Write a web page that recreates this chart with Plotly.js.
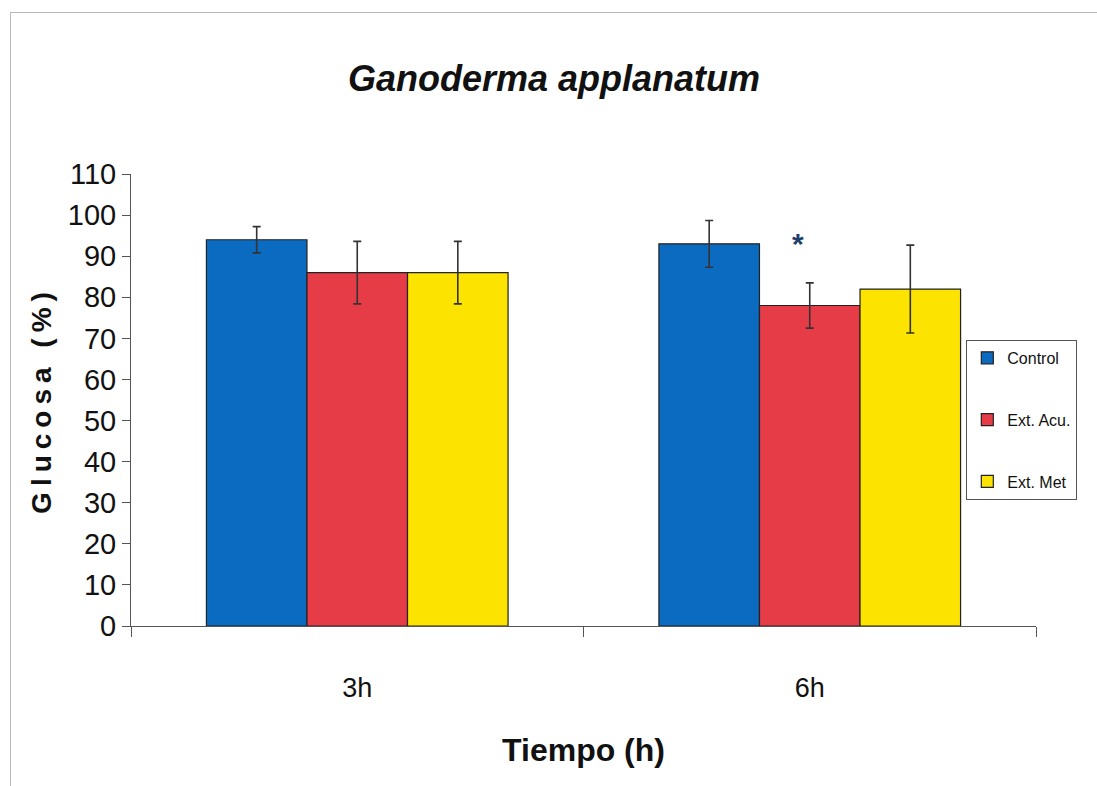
<!DOCTYPE html>
<html>
<head>
<meta charset="utf-8">
<script src="https://cdn.plot.ly/plotly-3.0.1.min.js"></script>
<style>
html,body{margin:0;padding:0;background:#fff;}
#wrap{position:relative;width:1097px;height:786px;}
#frame{position:absolute;left:10px;top:12px;width:1100px;height:800px;border-left:1px solid #bbb;border-top:1px solid #bbb;pointer-events:none;}
#chart{position:absolute;left:0;top:0;width:1097px;height:786px;}
.ytitle{letter-spacing:6px;}
</style>
</head>
<body>
<div id="wrap">
<div id="chart"></div>
<div id="frame"></div>
</div>
<script>
const categories = ['3h', '6h'];
const seriesNames = ['Control', 'Ext. Acu.', 'Ext. Met'];
const controlValues = [94, 93];
const controlErrors = [3.2, 5.7];
const acuValues = [86, 78];
const acuErrors = [7.6, 5.5];
const metValues = [86, 82];
const metErrors = [7.6, 10.7];
const yTicks = [0, 10, 20, 30, 40, 50, 60, 70, 80, 90, 100, 110];
const colors = ['#0b6bc1', '#e63c48', '#fde400'];

const narrow = '"Liberation Sans Narrow", "Arial Narrow", "Liberation Sans", Arial, sans-serif';

function barTrace(name, vals, errs, color, grp) {
  return {
    type: 'bar', name: name, x: categories, y: vals,
    marker: {color: color, line: {color: '#222', width: 1.2}},
    error_y: {type: 'data', array: errs, visible: true, color: '#333', thickness: 1.6, width: 4},
    legendgroup: grp
  };
}

const data = [
  barTrace(seriesNames[0], controlValues, controlErrors, colors[0], 'a'),
  barTrace(seriesNames[1], acuValues, acuErrors, colors[1], 'b'),
  barTrace(seriesNames[2], metValues, metErrors, colors[2], 'c')
];

const layout = {
  width: 1097, height: 786,
  paper_bgcolor: 'rgba(0,0,0,0)', plot_bgcolor: 'rgba(0,0,0,0)',
  margin: {l: 131, r: 61, t: 174, b: 160},
  barmode: 'group', bargap: 1/3, bargroupgap: 0,
  font: {family: narrow, color: '#111'},
  title: {
    text: 'Ganoderma applanatum',
    font: {family: narrow, size: 36, weight: 'bold', style: 'italic', color: '#111'},
    x: 0.505, xanchor: 'center', y: 0.9, yanchor: 'middle', yref: 'container'
  },
  xaxis: {
    type: 'category',
    showline: true, linecolor: '#555', linewidth: 1,
    ticks: 'outside', tickson: 'boundaries', ticklen: 10, tickcolor: '#555',
    ticklabelstandoff: 38,
    tickfont: {family: narrow, size: 27, color: '#111'},
    showgrid: false, zeroline: false,
    title: {text: 'Tiempo (h)', font: {family: narrow, size: 32, weight: 'bold', color: '#111'}, standoff: 36}
  },
  yaxis: {
    range: [0, 110], tickvals: yTicks, ticktext: yTicks.map(String),
    showline: true, linecolor: '#555', linewidth: 1,
    ticks: 'outside', ticklen: 8, tickcolor: '#555',
    tickfont: {family: narrow, size: 29, color: '#111'},
    showgrid: false, zeroline: false,
    title: {text: 'Glucosa (%)', font: {family: 'Liberation Sans, Arial, sans-serif', size: 28, weight: 'bold', color: '#111'}, standoff: 8}
  },
  legend: {
    x: 0.923, xanchor: 'left', y: 0.633, yanchor: 'top',
    bgcolor: '#fff', bordercolor: '#555', borderwidth: 1,
    font: {family: narrow, size: 16, color: '#111'},
    traceorder: 'grouped', tracegroupgap: 38,
    itemwidth: 30
  },
  annotations: [{
    x: '6h', y: 93, xref: 'x', yref: 'y', text: '*', showarrow: false,
    xshift: -12, font: {family: 'Liberation Sans, Arial, sans-serif', size: 30, weight: 'bold', color: '#1f3f6a'}
  }]
};

Plotly.newPlot('chart', data, layout, {displayModeBar: false, staticPlot: true});
</script>
</body>
</html>
